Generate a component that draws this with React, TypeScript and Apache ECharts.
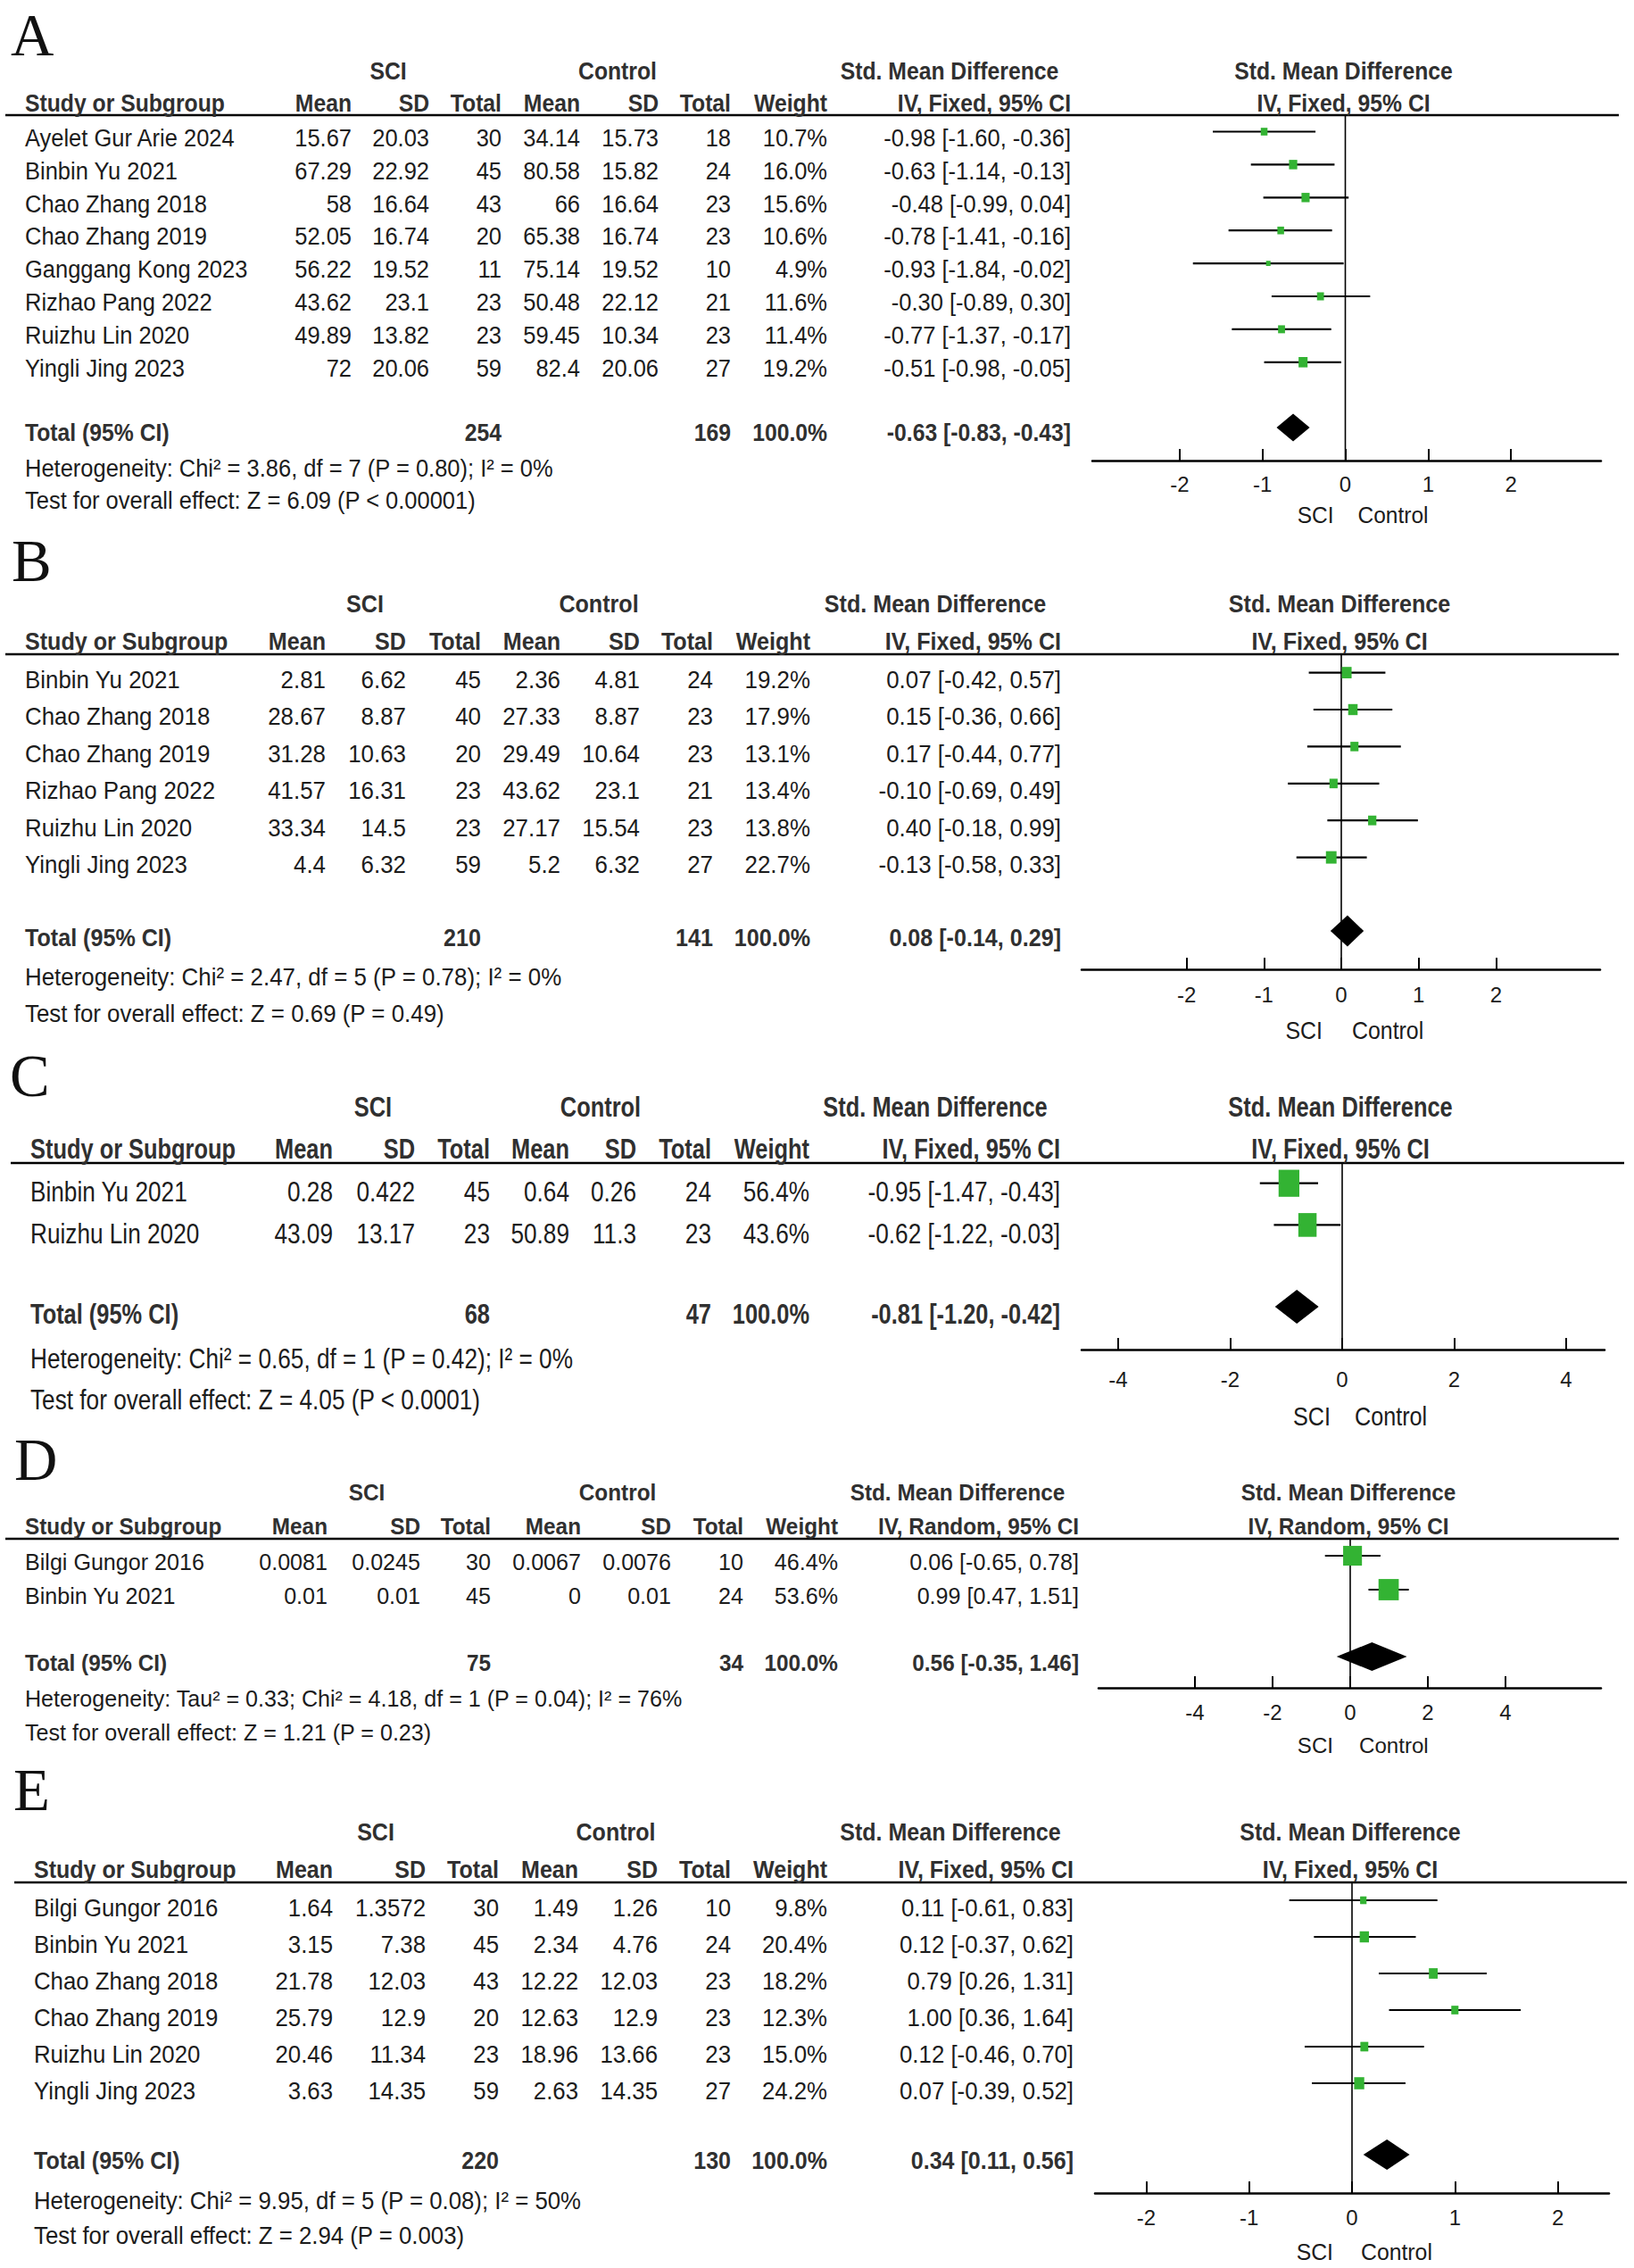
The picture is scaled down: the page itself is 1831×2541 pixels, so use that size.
import React, { useEffect, useRef } from 'react';
import * as echarts from 'echarts';

const PAGE_W = 1831;
const PAGE_H = 2541;
const SANS = "'Liberation Sans', Arial, Helvetica, sans-serif";
const SERIF = "'Liberation Serif', 'Times New Roman', serif";
const INK = '#1c1c1c';
const BOLD_INK = '#303030';
const GREEN = '#33b333';

// ---------------- Panel A ----------------
const studiesA = ['Ayelet Gur Arie 2024', 'Binbin Yu 2021', 'Chao Zhang 2018', 'Chao Zhang 2019', 'Ganggang Kong 2023', 'Rizhao Pang 2022', 'Ruizhu Lin 2020', 'Yingli Jing 2023'];
const sciMeanA = [15.67, 67.29, 58, 52.05, 56.22, 43.62, 49.89, 72];
const sciSdA = [20.03, 22.92, 16.64, 16.74, 19.52, 23.1, 13.82, 20.06];
const sciNA = [30, 45, 43, 20, 11, 23, 23, 59];
const ctlMeanA = [34.14, 80.58, 66, 65.38, 75.14, 50.48, 59.45, 82.4];
const ctlSdA = [15.73, 15.82, 16.64, 16.74, 19.52, 22.12, 10.34, 20.06];
const ctlNA = [18, 24, 23, 23, 10, 21, 23, 27];
const weightA = [10.7, 16.0, 15.6, 10.6, 4.9, 11.6, 11.4, 19.2];
const smdA = [-0.98, -0.63, -0.48, -0.78, -0.93, -0.30, -0.77, -0.51];
const lowA = [-1.60, -1.14, -0.99, -1.41, -1.84, -0.89, -1.37, -0.98];
const highA = [-0.36, -0.13, 0.04, -0.16, -0.02, 0.30, -0.17, -0.05];
const totalA = [254, 169, -0.63, -0.83, -0.43];
const hetA = 'Heterogeneity: Chi² = 3.86, df = 7 (P = 0.80); I² = 0%';
const testA = 'Test for overall effect: Z = 6.09 (P < 0.00001)';
const ticksA = [-2, -1, 0, 1, 2];

// ---------------- Panel B ----------------
const studiesB = ['Binbin Yu 2021', 'Chao Zhang 2018', 'Chao Zhang 2019', 'Rizhao Pang 2022', 'Ruizhu Lin 2020', 'Yingli Jing 2023'];
const sciMeanB = [2.81, 28.67, 31.28, 41.57, 33.34, 4.4];
const sciSdB = [6.62, 8.87, 10.63, 16.31, 14.5, 6.32];
const sciNB = [45, 40, 20, 23, 23, 59];
const ctlMeanB = [2.36, 27.33, 29.49, 43.62, 27.17, 5.2];
const ctlSdB = [4.81, 8.87, 10.64, 23.1, 15.54, 6.32];
const ctlNB = [24, 23, 23, 21, 23, 27];
const weightB = [19.2, 17.9, 13.1, 13.4, 13.8, 22.7];
const smdB = [0.07, 0.15, 0.17, -0.10, 0.40, -0.13];
const lowB = [-0.42, -0.36, -0.44, -0.69, -0.18, -0.58];
const highB = [0.57, 0.66, 0.77, 0.49, 0.99, 0.33];
const totalB = [210, 141, 0.08, -0.14, 0.29];
const hetB = 'Heterogeneity: Chi² = 2.47, df = 5 (P = 0.78); I² = 0%';
const testB = 'Test for overall effect: Z = 0.69 (P = 0.49)';
const ticksB = [-2, -1, 0, 1, 2];

// ---------------- Panel C ----------------
const studiesC = ['Binbin Yu 2021', 'Ruizhu Lin 2020'];
const sciMeanC = [0.28, 43.09];
const sciSdC = [0.422, 13.17];
const sciNC = [45, 23];
const ctlMeanC = [0.64, 50.89];
const ctlSdC = [0.26, 11.3];
const ctlNC = [24, 23];
const weightC = [56.4, 43.6];
const smdC = [-0.95, -0.62];
const lowC = [-1.47, -1.22];
const highC = [-0.43, -0.03];
const totalC = [68, 47, -0.81, -1.20, -0.42];
const hetC = 'Heterogeneity: Chi² = 0.65, df = 1 (P = 0.42); I² = 0%';
const testC = 'Test for overall effect: Z = 4.05 (P < 0.0001)';
const ticksC = [-4, -2, 0, 2, 4];

// ---------------- Panel D ----------------
const studiesD = ['Bilgi Gungor 2016', 'Binbin Yu 2021'];
const sciMeanD = [0.0081, 0.01];
const sciSdD = [0.0245, 0.01];
const sciND = [30, 45];
const ctlMeanD = [0.0067, 0];
const ctlSdD = [0.0076, 0.01];
const ctlND = [10, 24];
const weightD = [46.4, 53.6];
const smdD = [0.06, 0.99];
const lowD = [-0.65, 0.47];
const highD = [0.78, 1.51];
const totalD = [75, 34, 0.56, -0.35, 1.46];
const hetD = 'Heterogeneity: Tau² = 0.33; Chi² = 4.18, df = 1 (P = 0.04); I² = 76%';
const testD = 'Test for overall effect: Z = 1.21 (P = 0.23)';
const ticksD = [-4, -2, 0, 2, 4];

// ---------------- Panel E ----------------
const studiesE = ['Bilgi Gungor 2016', 'Binbin Yu 2021', 'Chao Zhang 2018', 'Chao Zhang 2019', 'Ruizhu Lin 2020', 'Yingli Jing 2023'];
const sciMeanE = [1.64, 3.15, 21.78, 25.79, 20.46, 3.63];
const sciSdE = [1.3572, 7.38, 12.03, 12.9, 11.34, 14.35];
const sciNE = [30, 45, 43, 20, 23, 59];
const ctlMeanE = [1.49, 2.34, 12.22, 12.63, 18.96, 2.63];
const ctlSdE = [1.26, 4.76, 12.03, 12.9, 13.66, 14.35];
const ctlNE = [10, 24, 23, 23, 23, 27];
const weightE = [9.8, 20.4, 18.2, 12.3, 15.0, 24.2];
const smdE = [0.11, 0.12, 0.79, 1.00, 0.12, 0.07];
const lowE = [-0.61, -0.37, 0.26, 0.36, -0.46, -0.39];
const highE = [0.83, 0.62, 1.31, 1.64, 0.70, 0.52];
const totalE = [220, 130, 0.34, 0.11, 0.56];
const hetE = 'Heterogeneity: Chi² = 9.95, df = 5 (P = 0.08); I² = 50%';
const testE = 'Test for overall effect: Z = 2.94 (P = 0.003)';
const ticksE = [-2, -1, 0, 1, 2];

const METHOD_FIXED = 'IV, Fixed, 95% CI';
const METHOD_RANDOM = 'IV, Random, 95% CI';

const panels = [
  { letter: 'A', method: METHOD_FIXED, studies: studiesA, sciMean: sciMeanA, sciSd: sciSdA, sciN: sciNA, ctlMean: ctlMeanA, ctlSd: ctlSdA, ctlN: ctlNA, weight: weightA, smd: smdA, low: lowA, high: highA, total: totalA, het: hetA, test: testA, ticks: ticksA },
  { letter: 'B', method: METHOD_FIXED, studies: studiesB, sciMean: sciMeanB, sciSd: sciSdB, sciN: sciNB, ctlMean: ctlMeanB, ctlSd: ctlSdB, ctlN: ctlNB, weight: weightB, smd: smdB, low: lowB, high: highB, total: totalB, het: hetB, test: testB, ticks: ticksB },
  { letter: 'C', method: METHOD_FIXED, studies: studiesC, sciMean: sciMeanC, sciSd: sciSdC, sciN: sciNC, ctlMean: ctlMeanC, ctlSd: ctlSdC, ctlN: ctlNC, weight: weightC, smd: smdC, low: lowC, high: highC, total: totalC, het: hetC, test: testC, ticks: ticksC },
  { letter: 'D', method: METHOD_RANDOM, studies: studiesD, sciMean: sciMeanD, sciSd: sciSdD, sciN: sciND, ctlMean: ctlMeanD, ctlSd: ctlSdD, ctlN: ctlND, weight: weightD, smd: smdD, low: lowD, high: highD, total: totalD, het: hetD, test: testD, ticks: ticksD },
  { letter: 'E', method: METHOD_FIXED, studies: studiesE, sciMean: sciMeanE, sciSd: sciSdE, sciN: sciNE, ctlMean: ctlMeanE, ctlSd: ctlSdE, ctlN: ctlNE, weight: weightE, smd: smdE, low: lowE, high: highE, total: totalE, het: hetE, test: testE, ticks: ticksE },
];

// ---------------- Layout (pixels) ----------------
const layouts = [
  { letterX: 12, letterY: 39, fs: 25.5, sy: 1.05, groupY: 80, colY: 116, lineY: 129, lineX0: 6, lineX1: 1814, row0: 147.5, step: 36.9, textDy: 7, totalY: 479, totalDy: 6, hetY: 525, testY: 561, axisY: 516, axisX0: 1224, axisX1: 1794, zeroX: 1507.5, unit: 92.8, tickY: 542, favY: 577, favL: 13, favR: 14, studyX: 28, cols: [394, 481, 562, 650, 738, 819, 927, 1200], sciX: 435, ctlX: 692, smdX: 1064, boxK: 2.3, boxH: 1.15, diamondH: 31 },
  { letterX: 13, letterY: 628, fs: 25.9, sy: 1.1, groupY: 676, colY: 718, lineY: 733, lineX0: 6, lineX1: 1814, row0: 753.6, step: 41.4, textDy: 7.5, totalY: 1043, totalDy: 7, hetY: 1094, testY: 1135, axisY: 1086, axisX0: 1212, axisX1: 1793, zeroX: 1503, unit: 86.7, tickY: 1114, favY: 1155, favL: 21, favR: 12, studyX: 28, cols: [365, 455, 539, 628, 717, 799, 908, 1189], sciX: 409, ctlX: 671, smdX: 1048, boxK: 2.5, boxH: 1.17, diamondH: 35 },
  { letterX: 11, letterY: 1205, fs: 26.2, sy: 1.2, groupY: 1240, colY: 1287, lineY: 1303, lineX0: 12, lineX1: 1820, row0: 1325.7, step: 46.7, textDy: 9.5, totalY: 1464, totalDy: 8, hetY: 1522, testY: 1568, axisY: 1512, axisX0: 1212, axisX1: 1798, zeroX: 1504, unit: 62.75, tickY: 1545, favY: 1587, favL: 13, favR: 14, studyX: 34, cols: [373, 465, 549, 638, 713, 797, 907, 1188], sciX: 418, ctlX: 673, smdX: 1048, boxK: 3.1, boxH: 1.3, diamondH: 38 },
  { letterX: 16, letterY: 1635, fs: 25.1, sy: 1.02, groupY: 1672, colY: 1710, lineY: 1724, lineX0: 6, lineX1: 1814, row0: 1743, step: 38, textDy: 7, totalY: 1856, totalDy: 7, hetY: 1903, testY: 1941, axisY: 1891, axisX0: 1231, axisX1: 1794, zeroX: 1513, unit: 43.5, tickY: 1918, favY: 1955, favL: 19, favR: 10, studyX: 28, cols: [367, 471, 550, 651, 752, 833, 939, 1209], sciX: 411, ctlX: 692, smdX: 1073, boxK: 3.1, boxH: 1.05, diamondH: 32 },
  { letterX: 15, letterY: 2005, fs: 25.8, sy: 1.07, groupY: 2053, colY: 2095, lineY: 2109, lineX0: 16, lineX1: 1823, row0: 2129, step: 41, textDy: 9, totalY: 2414, totalDy: 7, hetY: 2466, testY: 2505, axisY: 2457, axisX0: 1227, axisX1: 1803, zeroX: 1515, unit: 115.3, tickY: 2484, favY: 2523, favL: 21, favR: 10, studyX: 38, cols: [373, 477, 559, 648, 737, 819, 927, 1203], sciX: 421, ctlX: 690, smdX: 1065, boxK: 2.3, boxH: 1.2, diamondH: 34 },
];

const fmtW = (w: number) => w.toFixed(1) + '%';
const fmtCI = (e: number, l: number, h: number) => `${e.toFixed(2)} [${l.toFixed(2)}, ${h.toFixed(2)}]`;

function txt(x: number, y: number, s: string, o: any) {
  const align = o.align || 'left';
  const style: any = {
    text: s,
    fill: o.color || (o.bold ? BOLD_INK : INK),
    fontSize: o.size,
    fontFamily: o.family || SANS,
    fontWeight: o.bold ? 'bold' : 'normal',
    align,
    textAlign: align,
    verticalAlign: 'middle',
    textVerticalAlign: 'middle',
  };
  if (o.lineHeight) style.lineHeight = o.lineHeight;
  return {
    type: 'text',
    x,
    y,
    scaleX: o.sx || 1,
    scaleY: o.sy || 1,
    silent: true,
    z: 10,
    style,
  };
}

function buildOption() {
  const grids: any[] = [];
  const xAxes: any[] = [];
  const yAxes: any[] = [];
  const series: any[] = [];
  const graphics: any[] = [];

  panels.forEach((P, gi) => {
    const L = layouts[gi];
    const xMin = (L.axisX0 - L.zeroX) / L.unit;
    const xMax = (L.axisX1 - L.zeroX) / L.unit;
    const yMin = (L.lineY - L.row0) / L.step;
    const yMax = (L.axisY - L.row0) / L.step;
    const totalRow = (L.totalY - L.row0) / L.step;

    grids.push({ left: L.axisX0, top: L.lineY, width: L.axisX1 - L.axisX0, height: L.axisY - L.lineY });
    xAxes.push({
      type: 'value',
      gridIndex: gi,
      min: xMin,
      max: xMax,
      position: 'bottom',
      axisLine: { show: true, onZero: false, lineStyle: { color: '#000', width: 2.5 } },
      axisTick: { show: true, inside: true, length: 13, customValues: P.ticks, lineStyle: { color: '#000', width: 2 } },
      axisLabel: { show: true, customValues: P.ticks, margin: L.tickY - L.axisY - 12, fontSize: 24, color: INK, fontFamily: SANS },
      splitLine: { show: false },
    });
    yAxes.push({ type: 'value', gridIndex: gi, inverse: true, min: yMin, max: yMax, show: false });

    // zero line
    series.push({
      type: 'custom',
      xAxisIndex: gi,
      yAxisIndex: gi,
      silent: true,
      z: 1,
      data: [[0, yMin, yMax]],
      encode: { x: 0, y: [1, 2] },
      renderItem: (_p: any, api: any) => {
        const a = api.coord([api.value(0), api.value(1)]);
        const b = api.coord([api.value(0), api.value(2)]);
        return { type: 'line', shape: { x1: a[0], y1: a[1], x2: b[0], y2: b[1] }, style: { stroke: '#000', lineWidth: 1.6 } };
      },
    });

    // studies
    series.push({
      type: 'custom',
      xAxisIndex: gi,
      yAxisIndex: gi,
      silent: true,
      z: 2,
      data: P.studies.map((_s, i) => [i, P.smd[i], P.low[i], P.high[i], P.weight[i]]),
      encode: { x: [1, 2, 3], y: 0 },
      renderItem: (_p: any, api: any) => {
        const r = api.value(0);
        const pe = api.coord([api.value(1), r]);
        const pl = api.coord([api.value(2), r]);
        const ph = api.coord([api.value(3), r]);
        const bw = L.boxK * Math.sqrt(api.value(4));
        const bh = bw * L.boxH;
        return {
          type: 'group',
          children: [
            { type: 'line', shape: { x1: pl[0], y1: pl[1], x2: ph[0], y2: ph[1] }, style: { stroke: '#000', lineWidth: 2.2 } },
            { type: 'rect', shape: { x: pe[0] - bw / 2, y: pe[1] - bh / 2, width: bw, height: bh }, style: { fill: GREEN } },
          ],
        };
      },
    });

    // pooled diamond
    series.push({
      type: 'custom',
      xAxisIndex: gi,
      yAxisIndex: gi,
      silent: true,
      z: 3,
      data: [[totalRow, P.total[2], P.total[3], P.total[4]]],
      encode: { x: [1, 2, 3], y: 0 },
      renderItem: (_p: any, api: any) => {
        const r = api.value(0);
        const c = api.coord([api.value(1), r]);
        const l = api.coord([api.value(2), r]);
        const h = api.coord([api.value(3), r]);
        const hh = L.diamondH / 2;
        return {
          type: 'polygon',
          shape: { points: [[l[0], c[1]], [c[0], c[1] - hh], [h[0], c[1]], [c[0], c[1] + hh]] },
          style: { fill: '#000' },
        };
      },
    });

    const fs = L.fs;
    const sy = L.sy;
    const R = { size: fs, sy, align: 'right' };
    const B = { size: fs, sy, bold: true, sx: 0.97 };
    const BR = { ...B, align: 'right' };
    const BC = { ...B, align: 'center' };
    const plotX = L.zeroX - 2;

    // panel letter
    graphics.push(txt(L.letterX, L.letterY, P.letter, { size: 67, family: SERIF, color: '#111' }));

    // group headers
    graphics.push(txt(L.sciX, L.groupY, 'SCI', BC));
    graphics.push(txt(L.ctlX, L.groupY, 'Control', BC));
    graphics.push(txt(L.smdX, L.groupY, 'Std. Mean Difference', BC));
    graphics.push(txt(plotX, L.groupY, 'Std. Mean Difference', BC));

    // column headers
    const colHeads = ['Mean', 'SD', 'Total', 'Mean', 'SD', 'Total', 'Weight', P.method];
    graphics.push(txt(L.studyX, L.colY, 'Study or Subgroup', B));
    colHeads.forEach((h, k) => graphics.push(txt(L.cols[k], L.colY, h, BR)));
    graphics.push(txt(plotX, L.colY, P.method, BC));

    // header rule
    graphics.push({ type: 'line', silent: true, z: 5, shape: { x1: L.lineX0, y1: L.lineY, x2: L.lineX1, y2: L.lineY }, style: { stroke: '#000', lineWidth: 2.5 } });

    // study rows
    P.studies.forEach((name, i) => {
      const y = L.row0 + i * L.step + L.textDy;
      graphics.push(txt(L.studyX, y, name, { size: fs, sy }));
      const cells = [String(P.sciMean[i]), String(P.sciSd[i]), String(P.sciN[i]), String(P.ctlMean[i]), String(P.ctlSd[i]), String(P.ctlN[i]), fmtW(P.weight[i]), fmtCI(P.smd[i], P.low[i], P.high[i])];
      cells.forEach((c, k) => graphics.push(txt(L.cols[k], y, c, R)));
    });

    // total row
    const ty = L.totalY + L.totalDy;
    graphics.push(txt(L.studyX, ty, 'Total (95% CI)', B));
    graphics.push(txt(L.cols[2], ty, String(P.total[0]), BR));
    graphics.push(txt(L.cols[5], ty, String(P.total[1]), BR));
    graphics.push(txt(L.cols[6], ty, '100.0%', BR));
    graphics.push(txt(L.cols[7], ty, fmtCI(P.total[2], P.total[3], P.total[4]), BR));

    // heterogeneity & overall effect
    graphics.push(txt(L.studyX, L.hetY, P.het, { size: fs, sy }));
    graphics.push(txt(L.studyX, L.testY, P.test, { size: fs, sy }));

    // favours labels
    graphics.push(txt(L.zeroX - L.favL, L.favY, 'SCI', { size: fs - 1, sy, align: 'right' }));
    graphics.push(txt(L.zeroX + L.favR, L.favY, 'Control', { size: fs - 1, sy }));
  });

  return {
    animation: false,
    backgroundColor: '#ffffff',
    grid: grids,
    xAxis: xAxes,
    yAxis: yAxes,
    series,
    graphic: { elements: graphics },
  };
}

export default function App() {
  const ref = useRef<HTMLDivElement>(null);
  useEffect(() => {
    document.body.style.margin = '0';
    const chart = echarts.init(ref.current as HTMLDivElement, null, { renderer: 'svg', width: PAGE_W, height: PAGE_H });
    chart.setOption(buildOption() as any);
    return () => chart.dispose();
  }, []);
  return <div ref={ref} style={{ width: PAGE_W, height: PAGE_H, background: '#fff' }} />;
}
